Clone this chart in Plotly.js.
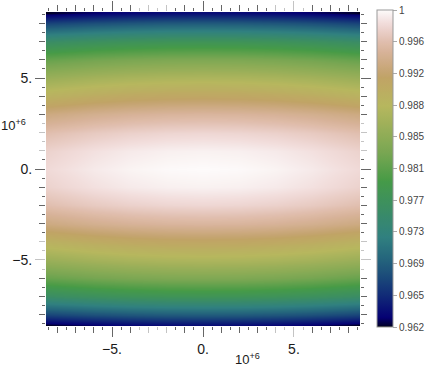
<!DOCTYPE html>
<html><head><meta charset="utf-8">
<script src="https://cdn.plot.ly/plotly-3.0.1.min.js"></script>
<style>html,body{margin:0;padding:0;background:#fff;}#chart{width:427px;height:368px;}</style>
</head><body><div id="chart"></div>
<script>
// ---- data ----
const xCoords = [-8.6e6, -6e6, -4e6, -2e6, 0, 2e6, 4e6, 6e6, 8.6e6];
const xDrop = [0.0018, 0.0009, 0.0004, 0.0001, 0, 0.0001, 0.0004, 0.0009, 0.0018];
const yCoords = [-8.6e6, -8e6, -7e6, -6e6, -5e6, -4e6, -3e6, -2e6, -1e6, 0, 1e6, 2e6, 3e6, 4e6, 5e6, 6e6, 7e6, 8e6, 8.6e6];
const yProfile = [0.9636, 0.9690, 0.9777, 0.9834, 0.9876, 0.9913, 0.9952, 0.9980, 0.9995, 1.0000, 0.9995, 0.9980, 0.9952, 0.9913, 0.9876, 0.9834, 0.9777, 0.9690, 0.9636];
const majorTicks = [-5e6, 0, 5e6];
const majorLabels = ['\u22125.', '0.', '5.'];
const cbLabels = ['0.962', '0.965', '0.969', '0.973', '0.977', '0.981', '0.985', '0.988', '0.992', '0.996', '1'];
const zMin = 0.9617, zMax = 1;

// ---- gist_earth colormap ----
const GE = {
 r: [[0,0],[0.2824,0.1882],[0.4588,0.2714],[0.5490,0.4719],[0.6980,0.7176],[0.7882,0.7553],[1,0.9922]],
 g: [[0,0],[0.0275,0],[0.1098,0.1893],[0.1647,0.3035],[0.2078,0.3841],[0.2824,0.5020],[0.5216,0.6397],[0.6980,0.7171],[0.7882,0.6392],[0.7922,0.6413],[0.8000,0.6447],[0.8078,0.6481],[0.8157,0.6549],[0.8667,0.6991],[0.8745,0.7103],[0.8824,0.7216],[0.8902,0.7323],[0.8980,0.7430],[0.9412,0.8275],[0.9569,0.8635],[0.9647,0.8816],[0.9961,0.9733],[1,0.9843]],
 b: [[0,0],[0.0039,0.1684],[0.0078,0.2212],[0.0275,0.4329],[0.0314,0.4549],[0.2824,0.5004],[0.4667,0.2748],[0.5451,0.3205],[0.7843,0.3961],[0.8941,0.6651],[1,0.9843]]
};
function seg(d, t){ for(let i=1;i<d.length;i++){ if(t<=d[i][0]){ const a=d[i-1], b=d[i]; return a[1]+(b[1]-a[1])*(t-a[0])/(b[0]-a[0]); } } return d[d.length-1][1]; }
let pts = new Set(); for(let i=0;i<=100;i++) pts.add(+(i/100).toFixed(4));
[GE.r,GE.g,GE.b].forEach(d=>d.forEach(p=>pts.add(p[0])));
const cs = Array.from(pts).sort((a,b)=>a-b).map(t=>[t, 'rgb('+Math.round(255*seg(GE.r,t))+','+Math.round(255*seg(GE.g,t))+','+Math.round(255*seg(GE.b,t))+')']);

const z = yProfile.map(v => xDrop.map(d => v - d));
const cbVals = cbLabels.map((_, i) => zMin + (zMax - zMin) * i / (cbLabels.length - 1));

// ---- tick sets ----
const DARK = '#666', LIGHT = '#c4c4c4';
function tickSets(lightList){
  const s = {intDark:[], intLight:[], halfDark:[], halfLight:[], majLight:[]};
  for(let k=-17;k<=17;k++){
    const v = k/2;
    const light = lightList.includes(v);
    if (Math.abs(v) % 5 === 0) { if (light) s.majLight.push(v*1e6); continue; }
    if (Number.isInteger(v)) (light ? s.intLight : s.intDark).push(v*1e6);
    else (light ? s.halfLight : s.halfDark).push(v*1e6);
  }
  return s;
}
const xs = tickSets([-3.5,-3,-2.5,-2,4,4.5,5,5.5]);
const ys = tickSets([2.5,2,1.5,1,-4,-4.5,-5,-5.5]);
const R = [-8.63e6, 8.63e6];
const FONT = 'Liberation Sans, Arial, sans-serif';
const base = {range:R, autorange:false, showgrid:false, zeroline:false, showline:false, ticks:'outside', mirror:'ticks', tickwidth:1};
function mainAx(s){ return Object.assign({}, base, {tickmode:'array', tickvals:majorTicks, ticktext:majorLabels, ticklen:10, tickcolor:DARK,
  tickfont:{family:FONT,size:14,color:'#1a1a1a'},
  minor:{tickmode:'array', tickvals:s.intDark, ticklen:6, tickcolor:DARK, ticks:'outside', showgrid:false}}); }
function ax2(s){ return Object.assign({}, base, {tickmode:'array', tickvals:s.halfDark, ticklen:3, tickcolor:DARK, showticklabels:false,
  minor:{tickmode:'array', tickvals:s.halfLight, ticklen:3, tickcolor:LIGHT, ticks:'outside', showgrid:false}}); }
function ax3(s){ return Object.assign({}, base, {tickmode:'array', tickvals:s.majLight, ticklen:10, tickcolor:LIGHT, showticklabels:false,
  minor:{tickmode:'array', tickvals:s.intLight, ticklen:6, tickcolor:LIGHT, ticks:'outside', showgrid:false}}); }

const traces = [{
  type:'heatmap', x:xCoords, y:yCoords, z:z, zmin:zMin, zmax:zMax, zsmooth:'best', colorscale:cs, hoverinfo:'skip',
  colorbar:{xref:'paper', x:(377-46)/314, xanchor:'left', xpad:0, yref:'paper', y:(326-327)/314, yanchor:'bottom', ypad:0,
    lenmode:'pixels', len:317, thicknessmode:'pixels', thickness:16, outlinecolor:'#999', outlinewidth:1,
    tickmode:'array', tickvals:cbVals, ticktext:cbLabels, ticks:'outside', ticklen:4, tickcolor:'#aaa', tickwidth:1,
    tickfont:{family:FONT, size:10, color:'#444'}}
}];
[['x2','y'],['x3','y'],['x','y2'],['x','y3']].forEach(p=>traces.push({type:'scatter', mode:'markers', x:[], y:[], xaxis:p[0], yaxis:p[1], showlegend:false, hoverinfo:'skip'}));

const layout = {
  width:427, height:368, margin:{l:46, r:67, t:12, b:42, autoexpand:false},
  paper_bgcolor:'#fff', plot_bgcolor:'#fff', showlegend:false,
  font:{family:FONT, size:12, color:'#1a1a1a'},
  xaxis: Object.assign(mainAx(xs), {anchor:'y', automargin:false}),
  xaxis2: Object.assign(ax2(xs), {overlaying:'x', anchor:'y'}),
  xaxis3: Object.assign(ax3(xs), {overlaying:'x', anchor:'y'}),
  yaxis: Object.assign(mainAx(ys), {anchor:'x', automargin:false}),
  yaxis2: Object.assign(ax2(ys), {overlaying:'y', anchor:'x'}),
  yaxis3: Object.assign(ax3(ys), {overlaying:'y', anchor:'x'}),
  annotations:[
    {text:'10<sup>+6</sup>', xref:'paper', yref:'paper', x:(233-46)/314, y:(326-369)/314, xanchor:'left', yanchor:'bottom', showarrow:false, font:{family:FONT,size:13,color:'#1a1a1a'}},
    {text:'10<sup>+6</sup>', xref:'paper', yref:'paper', x:(-1-46)/314, y:(326-125)/314, xanchor:'left', yanchor:'middle', showarrow:false, font:{family:FONT,size:13,color:'#1a1a1a'}}
  ]
};
Plotly.newPlot('chart', traces, layout, {staticPlot:true, displayModeBar:false});
</script></body></html>
